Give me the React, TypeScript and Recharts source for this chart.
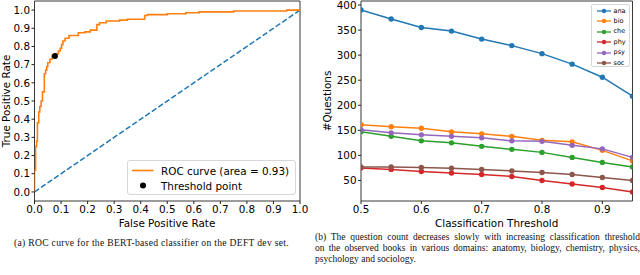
import React from "react";
import {
  ComposedChart,
  Line,
  Scatter,
  XAxis,
  YAxis,
  ReferenceArea,
} from "recharts";

const FONT = "'DejaVu Sans', sans-serif";
const SERIF = "'Liberation Serif', 'Times New Roman', serif";
const BLUE = "#1f77b4";
const ORANGE = "#ff7f0e";
const FRAME = "#222";

// ROC curve (left panel)
const rocFpr = [
  0, 0, 0.004, 0.004, 0.008, 0.008, 0.011, 0.011, 0.016, 0.016, 0.02, 0.02,
  0.025, 0.025, 0.03, 0.03, 0.037, 0.037, 0.042, 0.042, 0.046, 0.046, 0.05,
  0.05, 0.058, 0.058, 0.066, 0.066, 0.077, 0.077, 0.09, 0.09, 0.097, 0.097,
  0.102, 0.102, 0.107, 0.107, 0.115, 0.115, 0.13, 0.13, 0.165, 0.165, 0.19,
  0.19, 0.21, 0.21, 0.235, 0.235, 0.245, 0.245, 0.27, 0.27, 0.32, 0.32, 0.35,
  0.35, 0.415, 0.415, 0.425, 0.425, 0.5, 0.5, 0.57, 0.57, 0.62, 0.62, 0.75,
  0.75, 0.95, 0.95, 1,
];
const rocTpr = [
  0, 0.12, 0.12, 0.25, 0.25, 0.28, 0.28, 0.38, 0.38, 0.44, 0.44, 0.47, 0.47,
  0.5, 0.5, 0.55, 0.55, 0.65, 0.65, 0.67, 0.67, 0.69, 0.69, 0.71, 0.71, 0.73,
  0.73, 0.75, 0.75, 0.76, 0.76, 0.775, 0.775, 0.79, 0.79, 0.81, 0.81, 0.83,
  0.83, 0.845, 0.845, 0.86, 0.86, 0.875, 0.875, 0.88, 0.88, 0.89, 0.89, 0.92,
  0.92, 0.93, 0.93, 0.94, 0.94, 0.945, 0.945, 0.95, 0.95, 0.97, 0.97, 0.975,
  0.975, 0.98, 0.98, 0.985, 0.985, 0.99, 0.99, 0.995, 0.995, 1, 1,
];
const diagonal = [0, 1];
const thresholdPoint = { fpr: 0.077, tpr: 0.748 };
const rocTicks = [0, 0.1, 0.2, 0.3, 0.4, 0.5, 0.6, 0.7, 0.8, 0.9, 1];

// question counts (right panel)
const thresholds = [0.5, 0.55, 0.6, 0.65, 0.7, 0.75, 0.8, 0.85, 0.9, 0.95];
const ana = [390, 372, 355, 348, 332, 319, 303, 282, 256, 218];
const bio = [161, 157, 154, 147, 143, 138, 130, 127, 110, 89];
const che = [147, 138, 129, 125, 118, 112, 106, 96, 86, 77];
const phy = [75, 72, 68, 65, 62, 58, 50, 43, 36, 27];
const psy = [151, 145, 141, 138, 135, 129, 128, 120, 113, 96];
const soc = [77, 77, 76, 74.5, 72, 69, 66, 62, 56, 50];
const thresholdTicks = [0.5, 0.6, 0.7, 0.8, 0.9];
const countTicks = [50, 100, 150, 200, 250, 300, 350, 400];

const series = [
  { key: "ana", values: ana, color: "#1f77b4" },
  { key: "bio", values: bio, color: "#ff7f0e" },
  { key: "che", values: che, color: "#2ca02c" },
  { key: "phy", values: phy, color: "#d62728" },
  { key: "psy", values: psy, color: "#9467bd" },
  { key: "soc", values: soc, color: "#8c564b" },
];

const captionA =
  "(a) ROC curve for the BERT-based classifier on the DEFT dev set.";
const captionB = [
  "(b) The question count decreases slowly with increasing classification threshold",
  "on the observed books in various domains: anatomy, biology, chemistry, physics,",
  "psychology and sociology.",
];

const rocData = rocFpr.map((x, i) => ({ x, y: rocTpr[i] }));
const diagData = diagonal.map((v) => ({ x: v, y: v }));
const pointData = [{ x: thresholdPoint.fpr, y: thresholdPoint.tpr }];
const countData = thresholds.map((t, i) => {
  const row: Record<string, number> = { t };
  series.forEach((s) => (row[s.key] = s.values[i]));
  return row;
});

const tickStyle = { fontSize: 10.4, fill: "#000", fontFamily: FONT };
const label: React.CSSProperties = {
  position: "absolute",
  fontFamily: FONT,
  fontSize: 10.4,
  color: "#000",
  whiteSpace: "nowrap",
  lineHeight: 1,
};
const caption: React.CSSProperties = {
  position: "absolute",
  fontFamily: SERIF,
  fontSize: 9.5,
  lineHeight: "11px",
  color: "#111",
  whiteSpace: "nowrap",
};

function RocPanel() {
  return (
    <div style={{ position: "absolute", left: 0, top: 0 }}>
      <ComposedChart
        width={320}
        height={230}
        margin={{ top: 1, right: 20, bottom: 0, left: 0 }}
      >
        <XAxis
          type="number"
          dataKey="x"
          domain={[0, 1]}
          ticks={rocTicks}
          tickFormatter={(v) => v.toFixed(1)}
          allowDataOverflow
          height={29}
          tick={tickStyle}
          tickSize={3}
          tickMargin={2}
          axisLine={false}
          tickLine={{ stroke: FRAME }}
          interval={0}
        />
        <YAxis
          type="number"
          dataKey="y"
          domain={[-0.05, 1.05]}
          ticks={rocTicks}
          tickFormatter={(v) => v.toFixed(1)}
          allowDataOverflow
          width={34.5}
          tick={tickStyle}
          tickSize={3}
          tickMargin={1.5}
          axisLine={false}
          tickLine={{ stroke: FRAME }}
          interval={0}
        />
        <Line
          data={diagData}
          dataKey="y"
          stroke={BLUE}
          strokeWidth={1.5}
          strokeDasharray="5.5 2.4"
          dot={false}
          isAnimationActive={false}
        />
        <Line
          data={rocData}
          dataKey="y"
          stroke={ORANGE}
          strokeWidth={1.6}
          dot={false}
          isAnimationActive={false}
        />
        <Scatter
          data={pointData}
          dataKey="y"
          fill="#000"
          shape={(p: any) => <circle cx={p.cx} cy={p.cy} r={3} fill="#000" />}
          isAnimationActive={false}
        />
        <ReferenceArea
          x1={0}
          x2={1}
          y1={-0.05}
          y2={1.05}
          fill="none"
          stroke={FRAME}
          strokeWidth={0.9}
          ifOverflow="visible"
        />
      </ComposedChart>
      <div
        style={{
          position: "absolute",
          left: 127,
          top: 160,
          width: 169,
          height: 35,
          border: "1px solid #d6d6d6",
          borderRadius: 3,
          background: "rgba(255,255,255,0.85)",
          boxSizing: "border-box",
        }}
      >
        <svg width={30} height={33} style={{ position: "absolute", left: 0, top: 0 }}>
          <line x1={4} x2={25.5} y1={9.5} y2={9.5} stroke={ORANGE} strokeWidth={1.6} />
          <circle cx={15} cy={24.5} r={3} fill="#000" />
        </svg>
        <span style={{ ...label, left: 33, top: 4.5 }}>ROC curve (area = 0.93)</span>
        <span style={{ ...label, left: 33, top: 19.5 }}>Threshold point</span>
      </div>
      <span
        style={{
          ...label,
          left: 5.5,
          top: 101,
          transform: "translate(-50%, -50%) rotate(-90deg)",
        }}
      >
        True Positive Rate
      </span>
      <span
        style={{ ...label, left: 167, top: 223, transform: "translate(-50%, -50%)" }}
      >
        False Positive Rate
      </span>
    </div>
  );
}

function CountPanel() {
  return (
    <div style={{ position: "absolute", left: 320, top: 0 }}>
      <ComposedChart
        width={320}
        height={230}
        data={countData}
        margin={{ top: 1, right: 7.5, bottom: 0, left: 0 }}
      >
        <XAxis
          type="number"
          dataKey="t"
          domain={[0.5, 0.95]}
          ticks={thresholdTicks}
          tickFormatter={(v) => v.toFixed(1)}
          allowDataOverflow
          height={29}
          tick={tickStyle}
          tickSize={3}
          tickMargin={2}
          axisLine={false}
          tickLine={{ stroke: FRAME }}
          interval={0}
        />
        <YAxis
          type="number"
          domain={[9, 408]}
          ticks={countTicks}
          allowDataOverflow
          width={41}
          tick={tickStyle}
          tickSize={3}
          tickMargin={1.5}
          axisLine={false}
          tickLine={{ stroke: FRAME }}
          interval={0}
        />
        {series.map((s) => (
          <Line
            key={s.key}
            dataKey={s.key}
            stroke={s.color}
            strokeWidth={1.5}
            dot={{ r: 2.7, fill: s.color, stroke: s.color, strokeWidth: 0 }}
            isAnimationActive={false}
          />
        ))}
        <ReferenceArea
          x1={0.5}
          x2={0.95}
          y1={9}
          y2={408}
          fill="none"
          stroke={FRAME}
          strokeWidth={0.9}
          ifOverflow="visible"
        />
      </ComposedChart>
      <div
        style={{
          position: "absolute",
          left: 271,
          top: 4,
          width: 39,
          height: 63,
          border: "1px solid #d6d6d6",
          borderRadius: 2,
          background: "rgba(255,255,255,0.85)",
          boxSizing: "border-box",
        }}
      >
        {series.map((s, i) => (
          <div key={s.key}>
            <svg
              width={20}
              height={8}
              style={{ position: "absolute", left: 4, top: 2 + i * 10.4 }}
            >
              <line x1={1} x2={15} y1={4} y2={4} stroke={s.color} strokeWidth={1.3} />
              <circle cx={8} cy={4} r={2.2} fill={s.color} />
            </svg>
            <span
              style={{
                ...label,
                fontSize: 6.5,
                left: 21.5,
                top: 2.5 + i * 10.4,
              }}
            >
              {s.key}
            </span>
          </div>
        ))}
      </div>
      <span
        style={{
          ...label,
          left: 7,
          top: 101,
          transform: "translate(-50%, -50%) rotate(-90deg)",
        }}
      >
        #Questions
      </span>
      <span
        style={{ ...label, left: 176.7, top: 223, transform: "translate(-50%, -50%)" }}
      >
        Classification Threshold
      </span>
    </div>
  );
}

export default function App() {
  return (
    <div
      style={{
        position: "fixed",
        left: 0,
        top: 0,
        width: 640,
        height: 275,
        background: "#fff",
        overflow: "hidden",
      }}
    >
      <RocPanel />
      <CountPanel />
      <div
        style={{
          ...caption,
          left: 0,
          width: 303,
          top: 236.5,
          textAlign: "center",
          fontSize: 9.6,
          letterSpacing: 0.3,
        }}
      >
        {captionA}
      </div>
      {captionB.map((line, i) => (
        <div
          key={i}
          style={{
            ...caption,
            left: 315,
            width: i < 2 ? 325 : undefined,
            top: 232 + i * 11,
            textAlign: i < 2 ? "justify" : "left",
            textAlignLast: i < 2 ? "justify" : "left",
          }}
        >
          {line}
        </div>
      ))}
    </div>
  );
}
